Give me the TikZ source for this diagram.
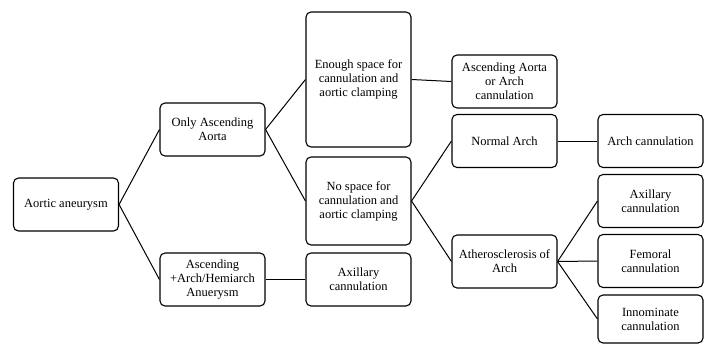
\documentclass[tikz,border=0pt]{standalone}
\usepackage{fontspec}
\setmainfont{Liberation Serif}
\usetikzlibrary{positioning}

\begin{document}
\begin{tikzpicture}[
    x=1pt, y=-1pt,
    box/.style={rectangle, draw, rounded corners=5pt, line width=1.1pt, minimum width=105pt, minimum height=53pt, align=center, inner sep=2pt, font=\fontsize{12.5}{14}\selectfont},
    link/.style={line width=1pt}
]
    \useasboundingbox (0,0) rectangle (708,345);

    % Root
    \node[box] (aneurysm) at (66, 204.5) {Aortic aneurysm};

    % First split
    \node[box] (ascending) at (212.5, 129.5) {Only Ascending\\Aorta};
    \node[box] (hemiarch) at (212.5, 279.5) {Ascending\\+Arch/Hemiarch\\Anuerysm};
    \draw[link] (aneurysm.east) -- (ascending.west);
    \draw[link] (aneurysm.east) -- (hemiarch.west);

    % Space for clamping
    \node[box, minimum height=135pt] (enough) at (358.5, 79.5) {Enough space for\\cannulation and\\aortic clamping};
    \node[box, minimum height=88pt] (nospace) at (358.5, 201) {No space for\\cannulation and\\aortic clamping};
    \node[box] (axillarymid) at (358.5, 279.5) {Axillary\\cannulation};
    \draw[link] (ascending.east) -- (enough.west);
    \draw[link] (ascending.east) -- (nospace.west);
    \draw[link] (hemiarch.east) -- (axillarymid.west);

    % Arch state
    \node[box] (aortaarch) at (504.5, 81.5) {Ascending Aorta\\or Arch\\cannulation};
    \node[box] (normal) at (504.5, 141) {Normal Arch};
    \node[box] (athero) at (504.5, 261.5) {Atherosclerosis of\\Arch};
    \draw[link] (enough.east) -- (aortaarch.west);
    \draw[link] (nospace.east) -- (normal.west);
    \draw[link] (nospace.east) -- (athero.west);

    % Cannulation sites
    \node[box] (archcan) at (650.5, 141) {Arch cannulation};
    \node[box] (axillary) at (650.5, 201) {Axillary\\cannulation};
    \node[box] (femoral) at (650.5, 261) {Femoral\\cannulation};
    \node[box, minimum height=48pt] (innominate) at (650.5, 319) {Innominate\\cannulation};
    \draw[link] (normal.east) -- (archcan.west);
    \draw[link] (athero.east) -- (axillary.west);
    \draw[link] (athero.east) -- (femoral.west);
    \draw[link] (athero.east) -- (innominate.west);
\end{tikzpicture}
\end{document}
